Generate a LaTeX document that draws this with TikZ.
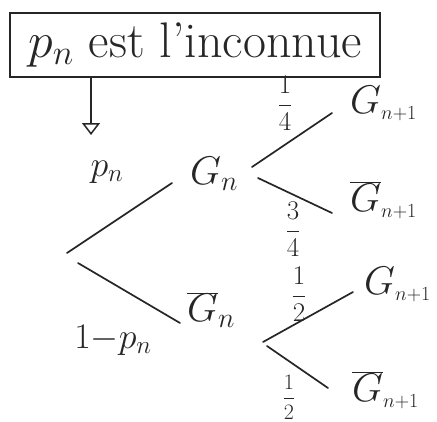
\RequirePackage{fix-cm}
\documentclass[tikz,border=0pt]{standalone}
\usetikzlibrary{arrows.meta}
\begin{document}
\begin{tikzpicture}[x=1pt,y=-1pt,
  ink/.style={line width=1.7pt,draw=black!85,line cap=round},
  lbl/.style={font=\fontsize{40}{46}\selectfont,text=black!85,inner sep=0pt},
  plbl/.style={font=\fontsize{36}{42}\selectfont,text=black!85,inner sep=0pt},
  frac/.style={font=\fontsize{27}{31}\selectfont,text=black!85,inner sep=0pt}]
\useasboundingbox (0,0) rectangle (437,421);
% title box
\node[lbl,draw=black!85,line width=1.5pt,minimum width=370pt,minimum height=64pt,
  font=\fontsize{50}{56}\selectfont] (title) at (195,45) {$p_n$ est l'inconnue};
\coordinate (arrEnd) at (91,135);
\draw[ink,-{Triangle[open,length=12pt,width=18pt,line width=1.5pt]}] (title.south -| arrEnd) -- (arrEnd);
% level 1
\coordinate (root) at (67,253);
\node[lbl] (Gn) at (214,174) {$G_n$};
\node[lbl] (Gbn) at (211,310) {$\overline{G}_n$};
\coordinate (e1) at (172,183);
\coordinate (e2) at (180,323);
\draw[ink] (root) -- (e1);
\draw[ink] (root) ++(11,10) coordinate (root2) -- (e2);
\node[plbl] (pn) at (107,172) {$p_n$};
\node[plbl] (qn) at (113,340) {$1{-}p_n$};
% level 2 from Gn
\coordinate (s1) at (252,167);
\coordinate (s2) at (258,178);
\node[lbl,anchor=west] (G1) at (350,103) {$G_{\scriptscriptstyle n+1}$};
\node[lbl,anchor=west] (G2) at (350,200) {$\overline{G}_{\scriptscriptstyle n+1}$};
\coordinate (t1) at (332,113);
\coordinate (t2) at (332,213);
\draw[ink] (s1) -- (t1);
\draw[ink] (s2) -- (t2);
\node[frac] (f1) at (285,103) {$\displaystyle\frac{1}{4}$};
\node[frac] (f2) at (293,229) {$\displaystyle\frac{3}{4}$};
% level 2 from bar Gn
\coordinate (u1) at (263,342);
\coordinate (u2) at (267,346);
\node[lbl,anchor=west] (G3) at (364,284) {$G_{\scriptscriptstyle n+1}$};
\node[lbl,anchor=west] (G4) at (352,390) {$\overline{G}_{\scriptscriptstyle n+1}$};
\coordinate (v1) at (353,292);
\coordinate (v2) at (328,388);
\draw[ink] (u1) -- (v1);
\draw[ink] (u2) -- (v2);
\node[frac] (f3) at (299,294) {$\displaystyle\frac{1}{2}$};
\node[frac,font=\fontsize{22}{26}\selectfont] (f4) at (289,397) {$\displaystyle\frac{1}{2}$};
\end{tikzpicture}
\end{document}
